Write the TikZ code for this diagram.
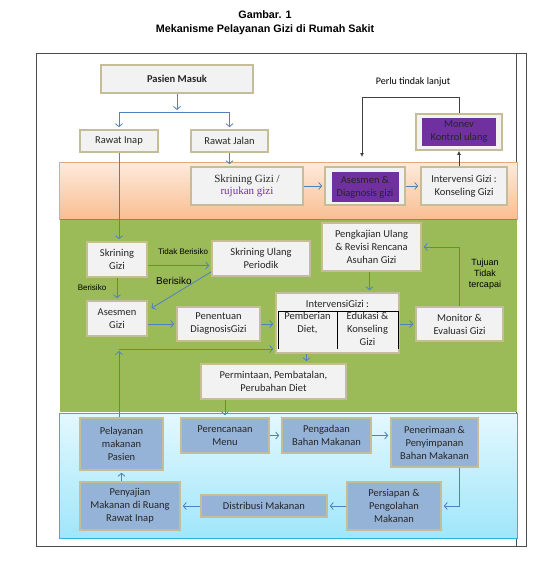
\documentclass[tikz,border=0pt]{standalone}
\usepackage{fontspec}
\setmainfont{Carlito}
\newfontfamily\arialfont{Liberation Sans}
\newfontfamily\timesfont{Liberation Serif}
\usepackage{tikz}
\usetikzlibrary{arrows.meta,positioning,calc}
\definecolor{boxline}{HTML}{C4BD97}
\definecolor{boxfill}{HTML}{F2F2F2}
\definecolor{bluefill}{HTML}{95B3D7}
\definecolor{arrowblue}{HTML}{4F81BD}
\definecolor{gizipurple}{HTML}{7030A0}
\definecolor{greenband}{HTML}{9BBB59}
\definecolor{orangetop}{HTML}{FDEBDD}
\definecolor{orangebot}{HTML}{F9BE92}
\definecolor{bluetop}{HTML}{E4F8FE}
\definecolor{bluebot}{HTML}{9FE6FA}
\newcommand{\nodefont}{\fontsize{10.5}{13}\selectfont}
\newcommand{\labelfont}{\arialfont\fontsize{8}{10}\selectfont}

\begin{document}
\begin{tikzpicture}[x=1pt,y=-1pt,
  box/.style={rectangle, draw=boxline, line width=1.6pt, fill=boxfill, inner sep=1pt, align=center, font=\nodefont, text=black!85},
  bluebox/.style={box, fill=bluefill},
  purplebox/.style={rectangle, fill=gizipurple, inner sep=1pt, align=center, font=\nodefont, text=black!85},
  flow/.style={draw=arrowblue, line width=0.8pt, -{Straight Barb[length=3pt,width=7pt]}, shorten >=2pt},
  back/.style={draw=black!75, line width=0.8pt, -{Latex[length=4pt,width=4pt]}},
  tabel/.style={draw=black, line width=1pt},
  note/.style={font=\labelfont, align=center, inner sep=0pt}]
\useasboundingbox (0,0) rectangle (540,566);

% Title
\node[font=\arialfont\bfseries\fontsize{10.8}{14}\selectfont, align=center] (judul) at (265,23) {Gambar. 1\\Mekanisme Pelayanan Gizi di Rumah Sakit};

% Frame and bands
\draw[gray!60!black, line width=0.8pt] (36,53) rectangle (526,546);
\draw[gray!60!black, line width=0.8pt] (516,53) -- (516,546);
\shade[top color=orangetop, bottom color=orangebot] (59,162) rectangle (517,219);
\draw[orangebot!90!black, line width=0.5pt] (59,162) rectangle (517,219);
\fill[greenband] (60,219) rectangle (517,412);
\draw[greenband!80!black, line width=0.8pt] (60,219) -- (517,219);
\shade[top color=bluetop, bottom color=bluebot] (59,413) rectangle (517,538);
\draw[arrowblue!60!cyan, line width=0.5pt] (59,413) rectangle (517,538);

% Admission
\node[box, minimum width=152, minimum height=28, font=\nodefont\bfseries] (pasien) at (177,79) {Pasien Masuk};
\node[box, minimum width=78, minimum height=22] (rinap) at (119,141) {Rawat Inap};
\node[box, minimum width=77, minimum height=22] (rjalan) at (229.5,141) {Rawat Jalan};
\coordinate (split) at (177,112);

% Outpatient row
\node[box, minimum width=112, minimum height=38, font=\timesfont\fontsize{11}{12}\selectfont] (rujukan) at (247,186) {Skrining Gizi /\\\textcolor{gizipurple}{rujukan gizi}};
\node[box, minimum width=80, minimum height=38] (asesdx) at (365,186) {};
\node[purplebox, minimum width=67, minimum height=30] (asesdxin) at (365,187) {Asesmen \&\\Diagnosis gizi};
\node[box, minimum width=86, minimum height=38] (konseling) at (464,186) {Intervensi Gizi :\\Konseling Gizi};
\node[box, minimum width=86, minimum height=36] (monev) at (459,132) {};
\node[purplebox, minimum width=74, minimum height=28] (monevin) at (459,132) {Monev\\Kontrol ulang};
\coordinate (lanjut) at (362,157);
\node[font=\fontsize{10}{12}\selectfont] (lanjutlabel) at (413,82) {Perlu tindak lanjut};

% Inpatient care
\node[box, minimum width=60, minimum height=35] (skrg) at (117,259.5) {Skrining\\Gizi};
\node[box, minimum width=98, minimum height=35] (ulang) at (261,258.5) {Skrining Ulang\\Periodik};
\node[box, minimum width=60, minimum height=35] (asesg) at (117,318.5) {Asesmen\\Gizi};
\node[box, minimum width=83, minimum height=34] (penentuan) at (218.5,324) {Penentuan\\DiagnosisGizi};
\node[box, minimum width=123, minimum height=60] (interv) at (337.5,323) {};
\node[font=\nodefont, text=black!85] (intervjudul) at (337.5,303.5) {IntervensiGizi :};
\node[font=\nodefont, text=black!85, align=center, anchor=north, inner sep=1pt] (diet) at (307.5,311.5) {Pemberian\\Diet,};
\node[font=\nodefont, text=black!85, align=center, anchor=north, inner sep=1pt] (edukasi) at (367.5,311.5) {Edukasi \&\\Konseling\\Gizi};
\node[box, minimum width=87, minimum height=34] (monitor) at (459.5,324) {Monitor \&\\Evaluasi Gizi};
\node[box, minimum width=99, minimum height=48] (kaji) at (371.5,247) {Pengkajian Ulang\\\& Revisi Rencana\\Asuhan Gizi};
\node[box, minimum width=145, minimum height=35] (minta) at (273.5,381.5) {Permintaan, Pembatalan,\\Perubahan Diet};
\coordinate (sudut) at (119,349);

% Table lines inside intervention
\draw[tabel] (278,311) -- (398,311);
\draw[tabel] (278,311) -- (278,349);
\draw[tabel] (337,311) -- (337,349);
\draw[tabel] (398,311) -- (398,349);

% Labels
\node[note] (tidak) at (183,252) {Tidak Berisiko};
\node[note, font=\arialfont\fontsize{10}{12}\selectfont] (berisiko) at (174,281) {Berisiko};
\node[note] (berisikokecil) at (92,288) {Berisiko};
\node[note, font=\arialfont\fontsize{9}{10.7}\selectfont] (tujuan) at (485,274) {Tujuan\\Tidak\\tercapai};

% Food service
\node[bluebox, minimum width=83, minimum height=52] (pelayanan) at (121.5,444) {Pelayanan\\makanan\\Pasien};
\node[bluebox, minimum width=88, minimum height=35] (perencanaan) at (225,435.5) {Perencanaan\\Menu};
\node[bluebox, minimum width=89, minimum height=35] (pengadaan) at (326.5,435.5) {Pengadaan\\Bahan Makanan};
\node[bluebox, minimum width=87, minimum height=49] (penerimaan) at (434.5,442.5) {Penerimaan \&\\Penyimpanan\\Bahan Makanan};
\node[bluebox, minimum width=94, minimum height=48] (persiapan) at (394,506) {Persiapan \&\\Pengolahan\\Makanan};
\node[bluebox, minimum width=126, minimum height=22] (distribusi) at (264,506) {Distribusi Makanan};
\node[bluebox, minimum width=100, minimum height=48] (penyajian) at (130,506) {Penyajian\\Makanan di Ruang\\Rawat Inap};

% Arrows
\draw[flow] (pasien.south) -- (split);
\draw[flow] (split) -| (rinap.north);
\draw[flow] (split) -| (rjalan.north);
\draw[flow] (rjalan.south) -- (rjalan.south |- rujukan.north);
\draw[flow] (rujukan.east) -- (asesdx.west);
\draw[flow] (asesdx.east) -- (konseling.west);
\draw[back] (konseling.north -| monev.south) -- (monev.south);
\draw[back] (monev.north) -- ++(0,-16) -| (lanjut);
\draw[flow] (rinap.south) -- (rinap.south |- skrg.north);
\draw[flow] ([yshift=-6pt]skrg.east) -- ([yshift=-6pt]skrg.east -| ulang.west);
\draw[flow] ([yshift=5pt]ulang.south west) -- ([xshift=2pt,yshift=-9pt]asesg.north east);
\draw[flow] (skrg.south) -- (asesg.north);
\draw[flow] (asesg.east |- penentuan) -- (penentuan.west);
\draw[flow] (penentuan.east) -- (penentuan.east -| interv.west);
\draw[flow] (interv.east |- monitor) -- (monitor.west);
\draw[flow] (monitor.north) |- (kaji.east);
\draw[flow] ([xshift=-2pt]kaji.south) -- ([xshift=-2pt]kaji.south |- interv.north);
\draw[flow] ([xshift=-31pt]interv.south) -- ([xshift=-31pt]interv.south |- minta.north);
\draw[flow] (minta.south -| perencanaan.north) -- (perencanaan.north);
\draw[flow] (pelayanan.north -| sudut) -- (sudut);
\draw[flow] (sudut) -- (sudut -| interv.west);
\draw[flow] (perencanaan.east) -- (pengadaan.west);
\draw[flow] (pengadaan.east) -- (pengadaan.east -| penerimaan.west);
\draw[flow] ([xshift=25pt]penerimaan.south) |- (persiapan.east);
\draw[flow] (persiapan.west) -- (distribusi.east);
\draw[flow] (distribusi.west) -- (penyajian.east);
\draw[flow] (penyajian.north -| pelayanan) -- (pelayanan.south);
\end{tikzpicture}
\end{document}
